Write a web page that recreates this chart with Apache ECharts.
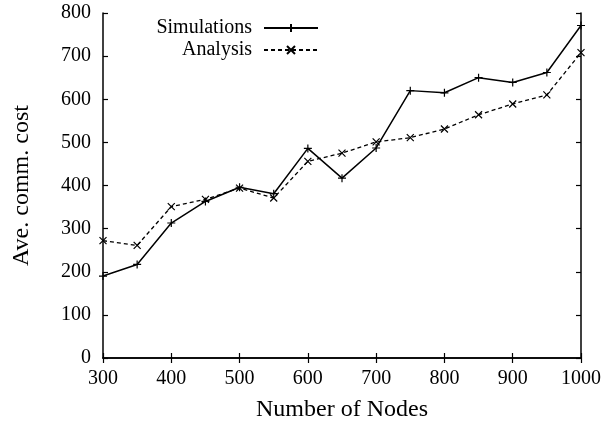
<!DOCTYPE html>
<html>
<head>
<meta charset="utf-8">
<script src="https://cdn.jsdelivr.net/npm/echarts@6/dist/echarts.min.js"></script>
<style>
html,body{margin:0;padding:0;background:#fff;}
#chart{width:605px;height:427px;}
</style>
</head>
<body>
<div id="chart"></div>
<script>
// Node counts on the x axis
const nodes = [300, 350, 400, 450, 500, 550, 600, 650, 700, 750, 800, 850, 900, 950, 1000];
// Average communication cost per run
const simulations = [190, 217, 313, 363, 396, 381, 486, 417, 487, 620, 615, 650, 639, 662, 771];
const analysis = [272, 261, 351, 368, 394, 371, 456, 475, 501, 511, 531, 564, 589, 610, 708];

const FONT = '"Liberation Serif", "DejaVu Serif", serif';
const plus = 'path://M0,5L10,5M5,0L5,10';
const cross = 'path://M0,0L10,10M10,0L0,10';

const pairs = (ys) => nodes.map((x, i) => [x, ys[i]]);

const chart = echarts.init(document.getElementById('chart'), null, {renderer: 'canvas'});
const axisLine = {show: true, lineStyle: {color: '#000', width: 1.5}};
const tick = {show: true, inside: true, length: 5, lineStyle: {color: '#000', width: 1.2}};
const plain = (v) => String(v);

chart.setOption({
  animation: false,
  backgroundColor: '#fff',
  grid: {left: 103, right: 24, top: 13, bottom: 69},
  legend: {
    right: 281, top: 13, orient: 'vertical', align: 'right',
    itemWidth: 54, itemHeight: 10, itemGap: 2,
    textStyle: {fontFamily: FONT, fontSize: 20, color: '#000', padding: [0, 7, 0, 0]},
    data: ['Simulations', 'Analysis']
  },
  xAxis: [{
    type: 'value', min: 300, max: 1000, interval: 100,
    axisLine, axisTick: tick, splitLine: {show: false},
    axisLabel: {fontFamily: FONT, fontSize: 20, color: '#000', margin: 11, formatter: plain},
    name: 'Number of Nodes', nameLocation: 'middle', nameGap: 40,
    nameTextStyle: {fontFamily: FONT, fontSize: 24, color: '#000'}
  }, {
    type: 'value', position: 'top', min: 300, max: 1000, interval: 100,
    axisLine, axisTick: tick, axisLabel: {show: false}, splitLine: {show: false}
  }],
  yAxis: [{
    type: 'value', min: 0, max: 800, interval: 100,
    axisLine, axisTick: tick, splitLine: {show: false},
    axisLabel: {fontFamily: FONT, fontSize: 20, color: '#000', margin: 12, formatter: plain},
    name: 'Ave. comm. cost', nameLocation: 'middle', nameGap: 69, nameRotate: 90,
    nameTextStyle: {fontFamily: FONT, fontSize: 24, color: '#000'}
  }, {
    type: 'value', position: 'right', min: 0, max: 800, interval: 100,
    axisLine, axisTick: tick, axisLabel: {show: false}, splitLine: {show: false}
  }],
  series: [{
    name: 'Simulations', type: 'line', data: pairs(simulations),
    symbol: plus, symbolSize: 8,
    itemStyle: {color: 'transparent', borderColor: '#000', borderWidth: 1.2},
    lineStyle: {color: '#000', width: 1.5}
  }, {
    name: 'Analysis', type: 'line', data: pairs(analysis),
    symbol: cross, symbolSize: 7,
    itemStyle: {color: 'transparent', borderColor: '#000', borderWidth: 1.2},
    lineStyle: {color: '#000', width: 1.3, type: [4, 3]}
  }]
});
</script>
</body>
</html>
